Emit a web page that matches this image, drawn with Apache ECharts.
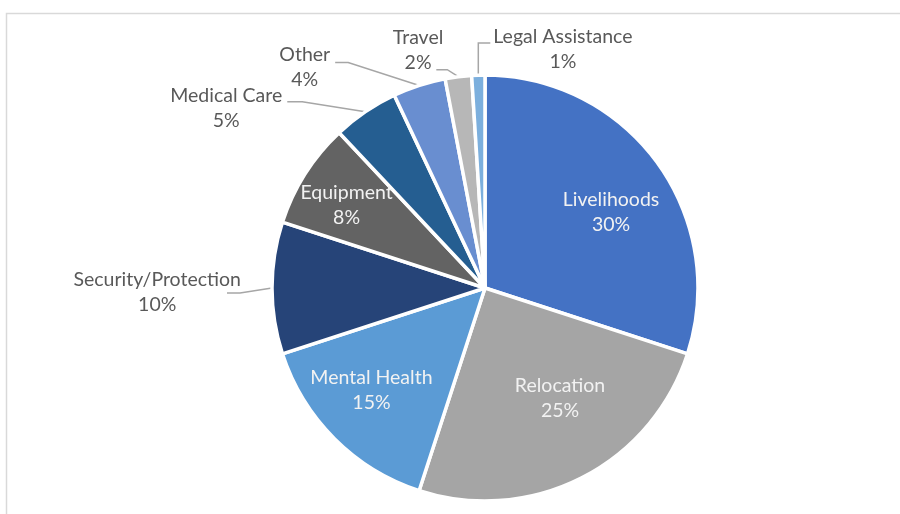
<!DOCTYPE html>
<html>
<head>
<meta charset="utf-8">
<script src="https://cdn.jsdelivr.net/npm/echarts@6/dist/echarts.min.js"></script>
<style>
  html, body { margin: 0; padding: 0; background: #fff; }
  #chart { width: 900px; height: 514px; }
</style>
</head>
<body>
<div id="chart"></div>
<script>
// 数据
const categories = ['Livelihoods', 'Relocation', 'Mental Health', 'Security/Protection',
    'Equipment', 'Medical Care', 'Other', 'Travel', 'Legal Assistance'];
const values = [30, 25, 15, 10, 8, 5, 4, 2, 1];
const colors = ['#4472C4', '#A5A5A5', '#5B9BD5', '#264478', '#636363',
    '#255E91', '#698ED0', '#B7B7B7', '#7CAFDD'];
// 标签在扇区内部的
const insideNames = ['Livelihoods', 'Relocation', 'Mental Health', 'Equipment'];

// 内部标签微调 [dx, dy]
const insideNudge = {
    'Livelihoods': [3, 14],
    'Relocation': [6, -25],
    'Mental Health': [-6, -5],
    'Equipment': [-10, -1]
};
// 外部标签引导线：拐点相对扇区边缘的偏移、水平段长度、方向、标签相对线端的偏移
const outsideLines = {
    'Security/Protection': { bend: [-32, 5], len: 13, dir: -1, label: [14, -1] },
    'Medical Care': { bend: [-63, -10], len: 15, dir: -1, label: [-5, 6] },
    'Other': { bend: [-71, -23], len: 13, dir: -1, label: [-5, 5] },
    'Travel': { bend: [-11, -7], len: 11, dir: -1, label: [7, -19] },
    'Legal Assistance': { bend: [0, -32], len: 12, dir: 1, label: [3, 6] }
};

const CX = 485, CY = 288, R = 213;
const FONT = 'Lato';
const FS = 19.5;

let chart = echarts.init(document.getElementById('chart'));

const total = values.reduce((a, b) => a + b, 0);

// 扇区外缘中点（备用）
function edgePoint(i) {
    const before = values.slice(0, i).reduce((a, b) => a + b, 0);
    const ang = (before + values[i] / 2) / total * Math.PI * 2;
    return [CX + R * Math.sin(ang), CY - R * Math.cos(ang)];
}

const mainData = categories.map((name, i) => {
    const item = { name: name, value: values[i], itemStyle: { color: colors[i] } };
    if (insideNames.indexOf(name) >= 0) {
        item.label = { show: false };
        item.labelLine = { show: false };
    }
    return item;
});

const overlayData = categories.map((name, i) => {
    const inside = insideNames.indexOf(name) >= 0;
    return {
        name: name,
        value: values[i],
        label: inside ? { show: true, offset: insideNudge[name] } : { show: false }
    };
});

chart.setOption({
    animation: false,
    graphic: [{
        type: 'rect',
        shape: { x: 6.5, y: 13.5, width: 900, height: 520 },
        style: { fill: 'none', stroke: '#d9d9d9', lineWidth: 1.5 },
        silent: true
    }],
    series: [{
        type: 'pie',
        center: [CX, CY],
        radius: R,
        startAngle: 90,
        clockwise: true,
        avoidLabelOverlap: false,
        itemStyle: { borderColor: '#fff', borderWidth: 3.5 },
        label: {
            show: true,
            position: 'outside',
            formatter: '{t|{b}}\n{t|{d}%}',
            color: '#595959',
            fontFamily: FONT,
            fontSize: FS,
            lineHeight: 25,
            rich: {
                t: { align: 'center', color: '#595959', fontFamily: FONT, fontSize: FS, lineHeight: 25 }
            }
        },
        labelLine: {
            show: true,
            length: 12,
            length2: 12,
            lineStyle: { color: '#a6a6a6', width: 1.5 }
        },
        labelLayout: function (params) {
            const cfg = outsideLines[categories[params.dataIndex]];
            if (!cfg) return {};
            let p0;
            if (params.labelLinePoints && params.labelLinePoints.length) {
                p0 = params.labelLinePoints[0];
            } else {
                p0 = edgePoint(params.dataIndex);
            }
            const bx = p0[0] + cfg.bend[0], by = p0[1] + cfg.bend[1];
            const ex = bx + cfg.dir * cfg.len;
            return {
                x: ex + cfg.label[0],
                y: by + cfg.label[1],
                align: cfg.dir > 0 ? 'left' : 'right',
                verticalAlign: 'middle',
                labelLinePoints: [[p0[0], p0[1]], [bx, by], [ex, by]]
            };
        },
        data: mainData
    }, {
        // 透明饼图，只用来放内部标签
        type: 'pie',
        center: [CX, CY],
        radius: R * 1.4,
        startAngle: 90,
        clockwise: true,
        silent: true,
        itemStyle: { color: 'rgba(0,0,0,0)' },
        label: {
            position: 'inside',
            formatter: '{b}\n{d}%',
            color: '#f2f2f2',
            fontFamily: FONT,
            fontSize: FS,
            lineHeight: 25
        },
        labelLine: { show: false },
        data: overlayData
    }]
});
</script>
</body>
</html>
